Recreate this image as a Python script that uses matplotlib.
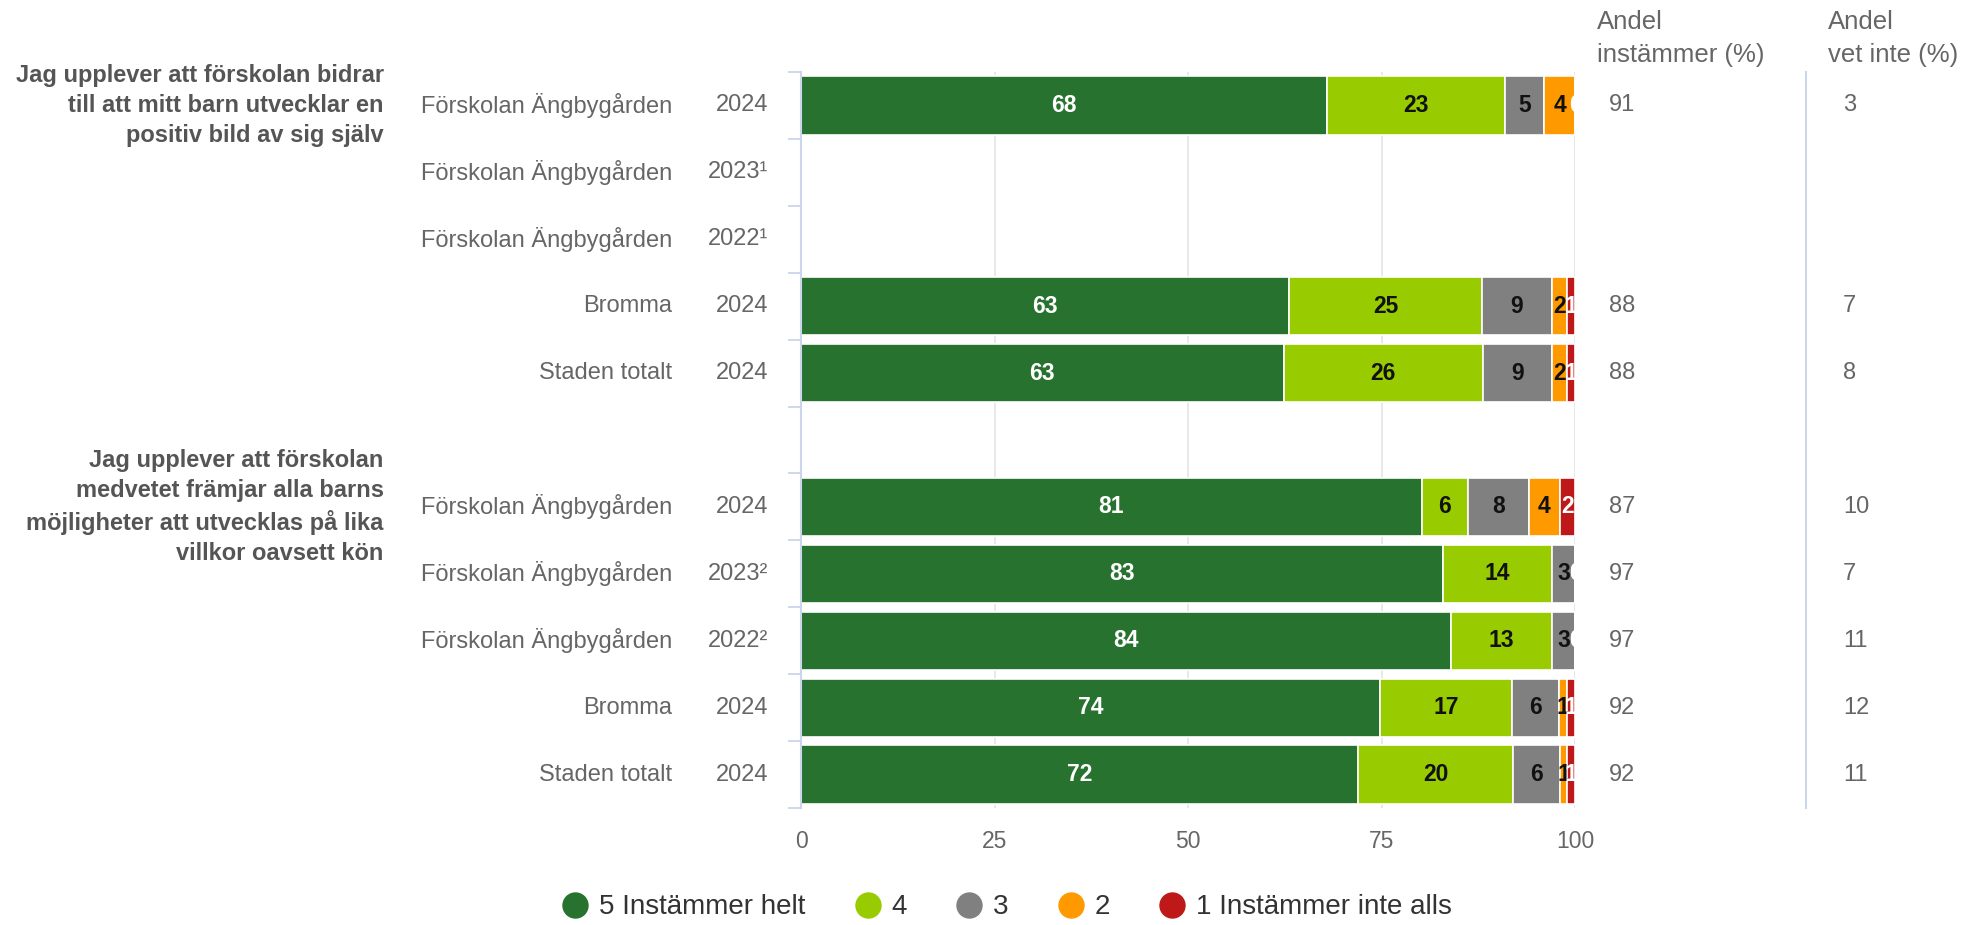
import matplotlib.pyplot as plt
from matplotlib.lines import Line2D
import numpy as np

plt.rcParams['font.family'] = ['Liberation Sans', 'DejaVu Sans']

# answer levels (legend order)
levels = ["5 Instämmer helt", "4", "3", "2", "1 Instämmer inte alls"]
colors = ["#26722e", "#99cc00", "#808080", "#ff9900", "#be1818"]
label_colors = ["white", "#111111", "#111111", "#111111", "white"]

questions = [
    "Jag upplever att förskolan bidrar\ntill att mitt barn utvecklar en\npositiv bild av sig själv",
    "Jag upplever att förskolan\nmedvetet främjar alla barns\nmöjligheter att utvecklas på lika\nvillkor oavsett kön",
]
units = ["Förskolan Ängbygården", "Förskolan Ängbygården", "Förskolan Ängbygården", "Bromma", "Staden totalt"]
years_q1 = ["2024", "2023¹", "2022¹", "2024", "2024"]
years_q2 = ["2024", "2023²", "2022²", "2024", "2024"]

# shares per row: 5, 4, 3, 2, 1  (None = no data)
values_q1 = [[68, 23, 5, 4, 0], None, None, [63, 25, 9, 2, 1], [63, 26, 9, 2, 1]]
values_q2 = [[81, 6, 8, 4, 2], [83, 14, 3, 0, 0], [84, 13, 3, 0, 0], [74, 17, 6, 1, 1], [72, 20, 6, 1, 1]]

instammer_q1 = [91, None, None, 88, 88]
instammer_q2 = [87, 97, 97, 92, 92]
vet_inte_q1 = [3, None, None, 7, 8]
vet_inte_q2 = [10, 7, 11, 12, 11]

fig = plt.figure(figsize=(19.7, 9.25), dpi=100)
ax = fig.add_axes([0.4066, 0.1265, 0.3929, 0.7957])
ytr = ax.get_yaxis_transform()

groups = [
    (questions[0], years_q1, values_q1, instammer_q1, vet_inte_q1, 0),
    (questions[1], years_q2, values_q2, instammer_q2, vet_inte_q2, 6),
]

for question, years, values, inst, vet, start in groups:
    ax.text(-0.539, start, question, transform=ytr, ha='right', va='center',
            fontsize=17, fontweight='bold', color='#555555', linespacing=1.4)
    for i in range(len(units)):
        y = start + i
        ax.text(-0.166, y, units[i], transform=ytr, ha='right', va='center',
                fontsize=17, color='#666666')
        ax.text(-0.042, y, years[i], transform=ytr, ha='right', va='center',
                fontsize=17, color='#666666')
        if inst[i] is not None:
            ax.text(1.044, y, str(inst[i]), transform=ytr, ha='left', va='center',
                    fontsize=17, color='#666666')
            ax.text(1.346, y, str(vet[i]), transform=ytr, ha='left', va='center',
                    fontsize=17, color='#666666')
        row = values[i]
        if row is None:
            continue
        shares = np.array(row, dtype=float) / sum(row) * 100
        left = 0.0
        for k in range(len(levels)):
            ax.barh(y, shares[k], left=left, height=0.87, color=colors[k],
                    edgecolor='white', linewidth=1.2, zorder=2)
            tc = label_colors[k] if row[k] > 0 else 'white'
            ax.text(left + shares[k] / 2, y, str(row[k]), ha='center', va='center',
                    fontsize=16.5, fontweight='bold', color=tc, zorder=3, clip_on=False)
            left += shares[k]

ax.set_xlim(0, 100)
ax.set_ylim(10.5, -0.5)
ax.set_xticks([0, 25, 50, 75, 100])
ax.set_yticks(np.arange(-0.5, 11, 1))
ax.set_yticklabels([])
ax.tick_params(axis='y', length=9.4, width=1.3, color='#ccd6eb', direction='out')
ax.tick_params(axis='x', length=0, pad=16, labelsize=16.5, labelcolor='#666666')
ax.grid(axis='x', color='#e6e6e6', linewidth=1.3)
ax.set_axisbelow(True)
for s in ['top', 'right', 'bottom']:
    ax.spines[s].set_visible(False)
ax.spines['left'].set_color('#ccd6eb')
ax.spines['left'].set_linewidth(1.5)

# separator between the two side columns
ax.plot([1.2987, 1.2987], [0, 1], transform=ax.transAxes, color='#ccd6eb',
        linewidth=1.5, clip_on=False)

# column headers
fig.text(1597 / 1970, 1 - 22 / 925, "Andel", fontsize=18.5, color='#666666', va='center')
fig.text(1597 / 1970, 1 - 55 / 925, "instämmer (%)", fontsize=18.5, color='#666666', va='center')
fig.text(1828 / 1970, 1 - 22 / 925, "Andel", fontsize=18.5, color='#666666', va='center')
fig.text(1828 / 1970, 1 - 55 / 925, "vet inte (%)", fontsize=18.5, color='#666666', va='center')

handles = [Line2D([0], [0], marker='o', linestyle='none', markersize=18,
                  markerfacecolor=c, markeredgecolor=c) for c in colors]
fig.legend(handles, levels, loc='center', bbox_to_anchor=(0.511, 0.019), ncol=5,
           frameon=False, fontsize=20, labelcolor='#333333', handlelength=1.0,
           handletextpad=0.35, columnspacing=1.75)

fig.savefig('out.png', dpi=100)
